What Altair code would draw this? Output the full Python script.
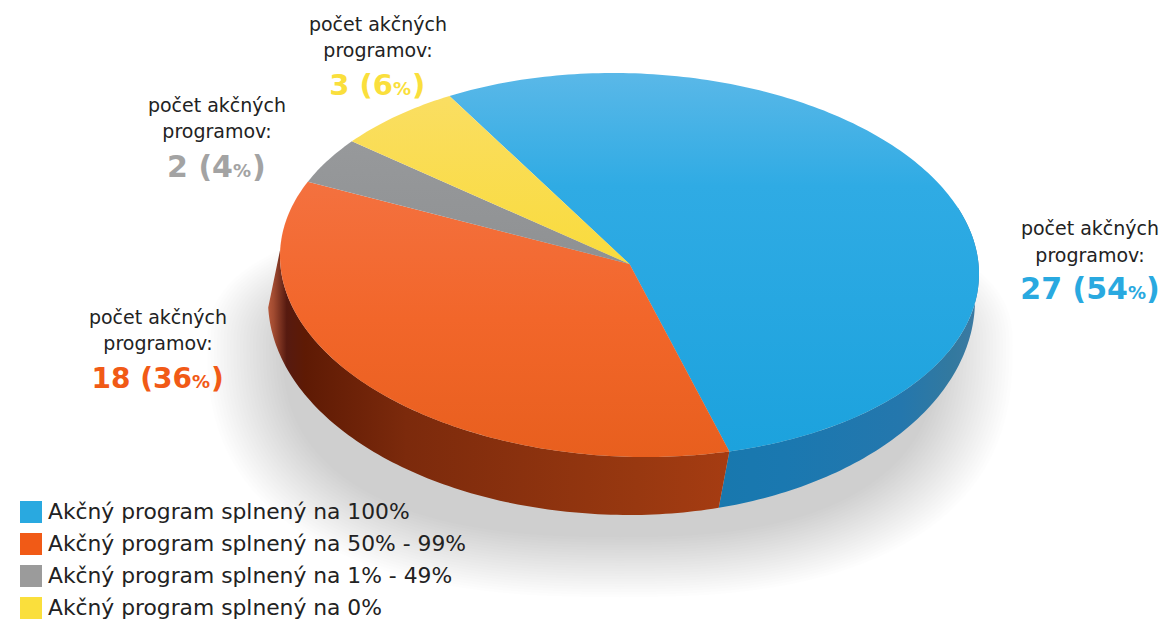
import math
import altair as alt
import pandas as pd

categories = ["Akčný program splnený na 100%", "Akčný program splnený na 50% - 99%",
              "Akčný program splnený na 1% - 49%", "Akčný program splnený na 0%"]
counts = [27, 18, 2, 3]
legend_colors = ["#29a9e0", "#f15a16", "#9b9b9b", "#fadf3c"]

W, H, M = 1159, 619, 8
TOP = dict(cx=629.5, cy=265, rl=349.5, rr=349.5, ry=191.8, tilt=9)
LOW = dict(cx=630, cy=300, rl=362, rr=345, ry=215, tilt=0)
START = -31
FONT = "DejaVu Sans"
TEXT = "#222222"

def pt(e, deg):
    a = math.radians(deg)
    s, c = math.sin(a), math.cos(a)
    return (e["cx"] + (e["rr"] if s > 0 else e["rl"]) * s, e["cy"] - e["ry"] * c + e["tilt"] * s)

def arc(e, a0, a1, step=1.0):
    n = max(2, int(abs(a1 - a0) / step) + 1)
    return [pt(e, a0 + (a1 - a0) * i / n) for i in range(n + 1)]

xs = alt.Scale(domain=[M, W], range=[0, W - M], nice=False, zero=False)
ys = alt.Scale(domain=[M, H], range=[0, H - M], nice=False, zero=False)

def poly(points, fill, opacity=1):
    df = pd.DataFrame({"x": [p[0] for p in points], "y": [p[1] for p in points],
                       "i": list(range(len(points)))})
    return alt.Chart(df).mark_line(filled=True, fill=fill, fillOpacity=opacity, strokeWidth=0,
                                   interpolate="linear-closed").encode(
        x=alt.X("x:Q", scale=xs, axis=None),
        y=alt.Y("y:Q", scale=ys, axis=None),
        order=alt.Order("i:Q"))

def lin(stops, vertical=True):
    return alt.LinearGradient(gradient="linear", x1=0, y1=0, x2=0 if vertical else 1, y2=1 if vertical else 0,
                              stops=[alt.GradientStop(offset=o, color=c) for o, c in stops])

total = sum(counts)
edges = [START]
for v in counts:
    edges.append(edges[-1] + 360 * v / total)

# soft shadow: stacked translucent super-ellipses
def blob(d, n=2.5):
    cx, cy, rl, rr, rt, rb = 620, 345, 385 + d, 365 + d, 120 + d * 0.7, 230 + d * 0.8
    out = []
    for k in range(0, 360, 3):
        a = math.radians(k)
        s, c = math.sin(a), math.cos(a)
        px = abs(s) ** (2 / n) * (rr if s > 0 else rl) * (1 if s > 0 else -1)
        py = abs(c) ** (2 / n) * (rt if c > 0 else rb) * (-1 if c > 0 else 1)
        out.append((cx + px, cy + py))
    return out

rings = 24
shadow = [poly(blob(28 - 75 * i / (rings - 1)), "#000000", 0.0095) for i in range(rings)]

# side walls: the seam between the two colours leans slightly outward
seam_low = edges[1] + 1.7
wall_blue = poly(arc(TOP, 70, edges[1]) + arc(LOW, seam_low, 70),
                 lin([(0, "#1878ae"), (0.25, "#1a78b0"), (0.7, "#2477ad"), (0.9, "#33799f"), (1, "#3d7aa3")], False))
wall_orange = poly(arc(TOP, edges[1], 272) + arc(LOW, 268, seam_low),
                   lin([(0, "#b5583a"), (0.012, "#a04a30"), (0.04, "#561a10"), (0.08, "#5e1a04"),
                        (0.3, "#7c2a0c"), (0.8, "#983810"), (1, "#a63c12")], False))

# top wedges
grads = [
    lin([(0, "#5ab8e8"), (0.3, "#2fabe4"), (1, "#1ca2dd")]),
    lin([(0, "#f4713f"), (0.5, "#f2662a"), (1, "#e85f1e")]),
    lin([(0, "#97999b"), (1, "#8f9193")]),
    lin([(0, "#fade62"), (1, "#f9db3c")]),
]
centre = (TOP["cx"], TOP["cy"] - 1)
wedges = [poly([centre] + arc(TOP, edges[i], edges[i + 1]), grads[i]) for i in range(4)]

# labels
def txt(s, px, py, size, color, weight="normal", align="center"):
    return alt.Chart(pd.DataFrame({"t": [s]})).mark_text(
        font=FONT, fontSize=size, fontWeight=weight, color=color, align=align, baseline="alphabetic"
    ).encode(text="t:N", x=alt.value(px - M), y=alt.value(py - M))

label_line1 = "počet akčných"
label_line2 = "programov:"
label_cx = [1090, 158, 217, 378]
label_y1 = [235, 324, 112, 31]
label_y2 = [262, 350, 138, 57]
num_y = [299, 388, 177, 95]
num_size = [30, 28, 30, 29]
pct_x = [1128, 192, 233, 393]
paren_x = [1146, 211, 252, 412]
value_colors = ["#29a9e0", "#f15a16", "#a3a3a3", "#fadf3c"]

labels = []
for i, v in enumerate(counts):
    pct = round(100 * v / total)
    labels += [
        txt(label_line1, label_cx[i], label_y1[i], 19, TEXT),
        txt(label_line2, label_cx[i], label_y2[i], 19, TEXT),
        txt(f"{v} ({pct}", pct_x[i], num_y[i], num_size[i], value_colors[i], "bold", "right"),
        txt("%", pct_x[i], num_y[i], 18, value_colors[i], "bold", "left"),
        txt(")", paren_x[i], num_y[i], num_size[i], value_colors[i], "bold", "left"),
    ]

legend_layer = alt.Chart(pd.DataFrame({"c": categories})).mark_square(size=0, opacity=0).encode(
    x=alt.value(0), y=alt.value(0),
    color=alt.Color("c:N", sort=categories,
                    scale=alt.Scale(domain=categories, range=legend_colors),
                    legend=alt.Legend(title=None, orient="none", legendX=12, legendY=493,
                                      symbolType="square", symbolSize=484, symbolStrokeWidth=0,
                                      symbolOpacity=1, labelFont=FONT, labelFontSize=21.8,
                                      labelColor=TEXT, labelLimit=600, labelOffset=6,
                                      rowPadding=9, padding=0)))

chart = alt.layer(*shadow, wall_blue, wall_orange, *wedges, *labels, legend_layer).properties(
    width=W - M, height=H - M, padding=0, background="white",
    autosize=alt.AutoSizeParams(type="none")).configure_view(stroke=None)

chart.save("out.html", embed_options={"renderer": "svg", "actions": False})
